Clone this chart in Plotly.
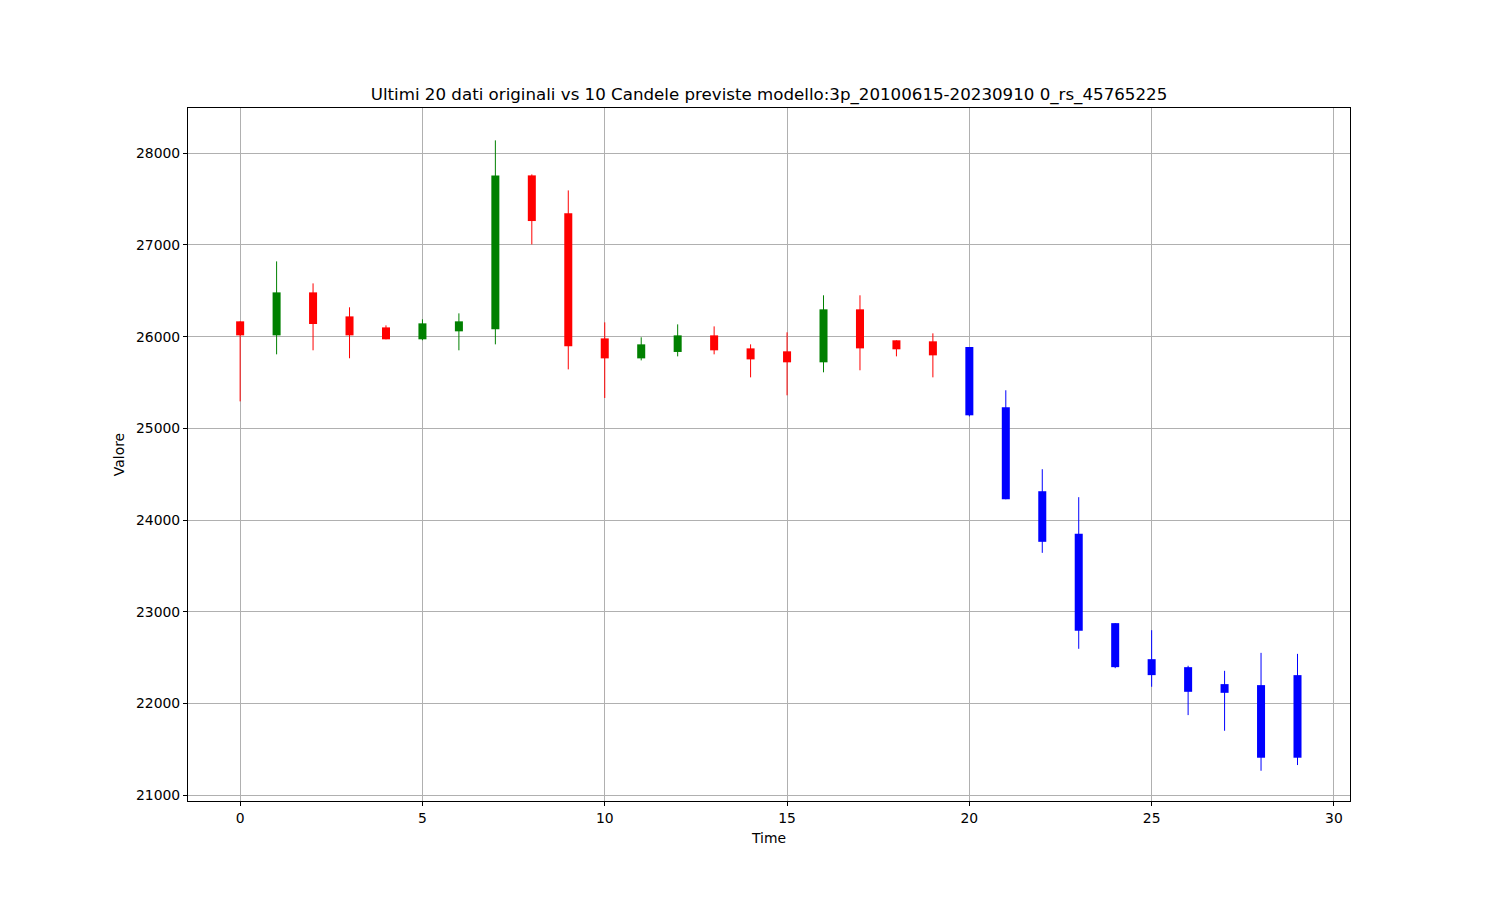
import plotly.graph_objects as go

# Original candles (t = 0..19)
orig_t = list(range(20))
orig_open = [26167, 26014, 26483, 26221, 26101, 25971, 26058, 26080, 27759, 27345,
             25981, 25763, 25833, 26014, 25872, 25840, 25720, 26298, 25960, 25949]
orig_close = [26014, 26483, 26138, 26014, 25971, 26145, 26167, 27759, 27261, 25894,
              25763, 25916, 26014, 25851, 25752, 25720, 26298, 25872, 25862, 25796]
orig_high = [26167, 26821, 26581, 26320, 26123, 26189, 26254, 28141, 27770, 27595,
             26156, 25993, 26134, 26112, 25916, 26047, 26451, 26451, 25960, 26036]
orig_low = [25294, 25807, 25851, 25764, 25971, 25960, 25851, 25916, 27006, 25643,
            25331, 25741, 25785, 25807, 25556, 25360, 25611, 25633, 25785, 25556]

# Predicted candles (t = 20..29)
pred_t = list(range(20, 30))
pred_open = [25887, 25229, 24314, 23849, 22875, 22482, 22395, 22210, 22199, 22308]
pred_close = [25142, 24226, 23762, 22791, 22395, 22308, 22126, 22115, 21407, 21407]
pred_high = [25887, 25415, 24554, 24249, 22875, 22798, 22410, 22355, 22551, 22540]
pred_low = [25130, 24226, 23642, 22595, 22384, 22181, 21872, 21701, 21265, 21327]

title_text = "Ultimi 20 dati originali vs 10 Candele previste modello:3p_20100615-20230910 0_rs_45765225"
x_ticks = [0, 5, 10, 15, 20, 25, 30]
y_ticks = [21000, 22000, 23000, 24000, 25000, 26000, 27000, 28000]

BODY_W = 0.22
FONT = "DejaVu Sans"

fig = go.Figure()


def wick_xy(ts, lows, highs):
    xs, ys = [], []
    for t, lo, hi in zip(ts, lows, highs):
        xs += [t, t, None]
        ys += [lo, hi, None]
    return xs, ys


def add_group(ts, opens, closes, highs, lows, color):
    if not ts:
        return
    xs, ys = wick_xy(ts, lows, highs)
    fig.add_trace(go.Scatter(x=xs, y=ys, mode="lines",
                             line=dict(color=color, width=1),
                             showlegend=False, hoverinfo="skip"))
    fig.add_trace(go.Bar(x=ts, base=[min(o, c) for o, c in zip(opens, closes)],
                         y=[abs(c - o) for o, c in zip(opens, closes)],
                         width=BODY_W, marker=dict(color=color, line=dict(width=0)),
                         showlegend=False))


# split originals into up (green) / down (red)
up = [i for i in range(len(orig_t)) if orig_close[i] > orig_open[i]]
dn = [i for i in range(len(orig_t)) if orig_close[i] <= orig_open[i]]
for idx, col in ((up, "#008000"), (dn, "#ff0000")):
    add_group([orig_t[i] for i in idx], [orig_open[i] for i in idx],
              [orig_close[i] for i in idx], [orig_high[i] for i in idx],
              [orig_low[i] for i in idx], col)

add_group(pred_t, pred_open, pred_close, pred_high, pred_low, "#0000ff")

axis_common = dict(
    showgrid=True, gridcolor="#b0b0b0", gridwidth=1,
    showline=True, linecolor="black", linewidth=1, mirror=True,
    ticks="outside", ticklen=4, tickcolor="black", tickwidth=1,
    tickfont=dict(family=FONT, size=13.9, color="black"),
    zeroline=False,
)

fig.update_layout(
    width=1500, height=900,
    margin=dict(l=180, r=158, t=100, b=107),
    paper_bgcolor="white", plot_bgcolor="white",
    barmode="overlay",
    font=dict(family=FONT, color="black"),
    title=dict(text=title_text, x=0.5, xref="paper", xanchor="center",
               y=1 - 86 / 900, yref="container", yanchor="middle",
               font=dict(family=FONT, size=16.67, color="black")),
    xaxis=dict(range=[-1.43, 30.44], tickvals=x_ticks, tickformat="d",
               title=dict(text="Time", font=dict(family=FONT, size=13.9), standoff=8),
               **axis_common),
    yaxis=dict(range=[20935, 28494], tickvals=y_ticks, tickformat="d",
               title=dict(text="Valore", font=dict(family=FONT, size=13.9), standoff=8),
               **axis_common),
)

fig.write_html("out.html")
